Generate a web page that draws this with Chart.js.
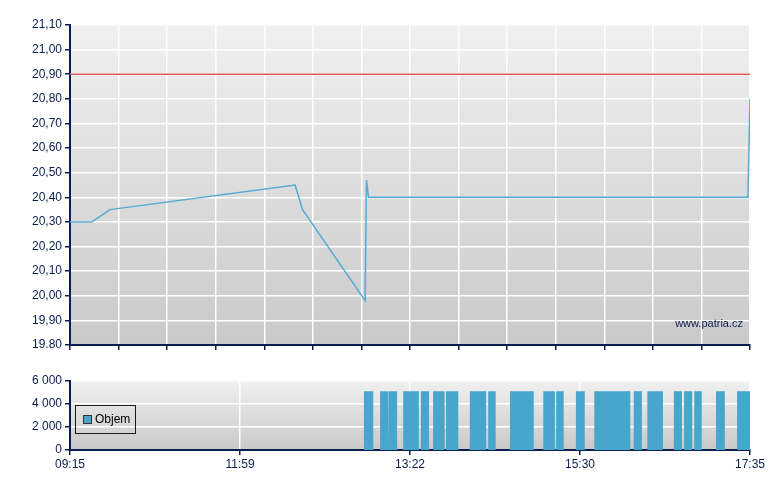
<!DOCTYPE html>
<html>
<head>
<meta charset="utf-8">
<script src="https://cdn.jsdelivr.net/npm/chart.js@4/dist/chart.umd.min.js"></script>
<style>
  html, body { margin: 0; padding: 0; background: #ffffff; }
  #wrap { position: relative; width: 780px; height: 490px; }
  #top { position: absolute; left: 0; top: 0; }
  #bot { position: absolute; left: 0; top: 360px; }
  #legend { position: absolute; left: 75px; top: 405px; width: 59px; height: 27px;
            border: 1px solid #1a1a1a; font: 12px "Liberation Sans", Arial, sans-serif; color: #000; }
  #legend .sw { position: absolute; left: 7px; top: 9px; width: 7px; height: 7px; border: 1px solid #333; }
  #legend .tx { position: absolute; left: 19px; top: 6px; }
</style>
</head>
<body>
<div id="wrap">
  <canvas id="top" width="780" height="360"></canvas>
  <canvas id="bot" width="780" height="130"></canvas>
  <div id="legend"></div>
</div>
<script>
// ---- DATA ----
// x positions are on the chart's session axis (0 = 09:15, 100 = 17:35)
const priceX = [0, 3.2, 5.9, 33.1, 34.2, 43.4, 43.6, 43.9, 99.7, 100];
const priceY = [20.30, 20.30, 20.35, 20.45, 20.35, 19.98, 20.47, 20.40, 20.40, 20.80];
const refLevel = 20.90;

const timeTickLabels = ['09:15', '11:59', '13:22', '15:30', '17:35'];
const priceTickLabels = ['19.80', '19,90', '20,00', '20,10', '20,20', '20,30', '20,40',
                         '20,50', '20,60', '20,70', '20,80', '20,90', '21,00', '21,10'];
const volTickLabels = ['0', '2 000', '4 000', '6 000'];

// volume trades: start / end on session axis, volume
const volStart = [43.2, 45.6, 46.9, 49.0, 51.6, 53.4, 55.3, 58.8, 61.5, 64.7, 69.6,
                  71.5, 74.4, 77.1, 82.9, 84.9, 88.8, 90.3, 91.8, 95.0, 98.1];
const volEnd   = [44.6, 46.8, 48.1, 51.3, 52.8, 55.1, 57.1, 61.2, 62.6, 68.2, 71.3,
                  72.6, 75.7, 82.4, 84.1, 87.2, 90.0, 91.5, 92.9, 96.3, 100];
const volValue = [5100, 5100, 5100, 5100, 5100, 5100, 5100, 5100, 5100, 5100, 5100,
                  5100, 5100, 5100, 5100, 5100, 5100, 5100, 5100, 5100, 5100];

// ---- STYLE ----
const NAVY = '#0a1e50';
const FONT = { family: '"Liberation Sans", Arial, sans-serif', size: 12 };
const LINE_BLUE = '#55acd3';
const VOL_BLUE = '#46a6cc';
const RED = '#e05a5a';

const bgPlugin = {
  id: 'bgGrad',
  beforeDraw(chart) {
    const { ctx, chartArea: a } = chart;
    const g = ctx.createLinearGradient(0, a.top, 0, a.bottom);
    g.addColorStop(0, '#f0f0f0');
    g.addColorStop(1, '#c9c9c9');
    ctx.save();
    ctx.fillStyle = g;
    ctx.fillRect(a.left, a.top, a.right - a.left, a.bottom - a.top);
    ctx.restore();
  }
};

const watermark = {
  id: 'watermark',
  afterDatasetsDraw(chart) {
    const { ctx, chartArea: a } = chart;
    ctx.save();
    ctx.font = '11px "Liberation Sans", Arial, sans-serif';
    ctx.fillStyle = NAVY;
    ctx.textAlign = 'right';
    ctx.textBaseline = 'alphabetic';
    ctx.fillText('www.patria.cz', a.right - 7, a.bottom - 18);
    ctx.restore();
  }
};

Chart.defaults.font.family = FONT.family;
Chart.defaults.font.size = FONT.size;

// ---- PRICE CHART ----
new Chart(document.getElementById('top'), {
  type: 'line',
  data: {
    datasets: [
      {
        label: 'Cena',
        data: priceX.map((x, i) => ({ x, y: priceY[i] })),
        borderColor: LINE_BLUE,
        borderWidth: 1.5,
        pointRadius: 0,
        tension: 0,
        fill: false
      },
      {
        label: 'Ref',
        data: [{ x: 0, y: refLevel }, { x: 100, y: refLevel }],
        borderColor: RED,
        borderWidth: 1.5,
        pointRadius: 0,
        fill: false
      }
    ]
  },
  options: {
    responsive: false,
    animation: false,
    devicePixelRatio: 1,
    layout: { padding: { left: 0, right: 30, top: 25, bottom: 0 } },
    plugins: { legend: { display: false }, tooltip: { enabled: false } },
    scales: {
      x: {
        type: 'linear',
        min: 0, max: 100,
        afterFit(s) { s.height = 15; },
        ticks: { stepSize: 100 / 14, callback: () => '', color: NAVY },
        grid: { color: '#ffffff', lineWidth: 1.5, tickColor: NAVY, tickLength: 5, tickWidth: 1.5 },
        border: { color: NAVY, width: 2 }
      },
      y: {
        type: 'linear',
        min: 19.8, max: 21.1,
        afterFit(s) { s.width = 70; },
        ticks: {
          stepSize: 0.1, color: NAVY, padding: 3,
          font: FONT,
          callback: (v) => priceTickLabels[Math.round((v - 19.8) / 0.1)]
        },
        grid: { color: '#ffffff', lineWidth: 1.5, tickColor: NAVY, tickLength: 5, tickWidth: 1.5 },
        border: { color: NAVY, width: 2 }
      }
    }
  },
  plugins: [bgPlugin, watermark]
});

// ---- VOLUME CHART ----
const volPoints = [];
volStart.forEach((s, i) => {
  volPoints.push({ x: s, y: 0 }, { x: s, y: volValue[i] }, { x: volEnd[i], y: volValue[i] }, { x: volEnd[i], y: 0 });
});

const volChart = new Chart(document.getElementById('bot'), {
  type: 'line',
  data: {
    datasets: [{
      label: 'Objem',
      data: volPoints,
      borderWidth: 0,
      borderColor: 'rgba(0,0,0,0)',
      backgroundColor: VOL_BLUE,
      pointRadius: 0,
      tension: 0,
      fill: 'origin'
    }]
  },
  options: {
    responsive: false,
    animation: false,
    devicePixelRatio: 1,
    layout: { padding: { left: 0, right: 30, top: 21, bottom: 0 } },
    plugins: { legend: { display: false }, tooltip: { enabled: false } },
    scales: {
      x: {
        type: 'linear',
        min: 0, max: 100,
        afterFit(s) { s.height = 40; },
        ticks: {
          stepSize: 25, color: NAVY, padding: 2, maxRotation: 0, autoSkip: false,
          font: FONT,
          callback: (v) => timeTickLabels[Math.round(v / 25)]
        },
        grid: { color: '#ffffff', lineWidth: 1.5, tickColor: NAVY, tickLength: 5, tickWidth: 1.5 },
        border: { color: NAVY, width: 2 }
      },
      y: {
        type: 'linear',
        min: 0, max: 6000,
        afterFit(s) { s.width = 70; },
        ticks: {
          stepSize: 2000, color: NAVY, padding: 3,
          font: FONT,
          callback: (v) => volTickLabels[Math.round(v / 2000)]
        },
        grid: { color: '#ffffff', lineWidth: 1.5, tickColor: NAVY, tickLength: 5, tickWidth: 1.5 },
        border: { color: NAVY, width: 2 }
      }
    }
  },
  plugins: [bgPlugin]
});

// HTML legend built from the dataset
const ds = volChart.data.datasets[0];
document.getElementById('legend').innerHTML =
  '<span class="sw" style="background:' + ds.backgroundColor + '"></span><span class="tx">' + ds.label + '</span>';
</script>
</body>
</html>
